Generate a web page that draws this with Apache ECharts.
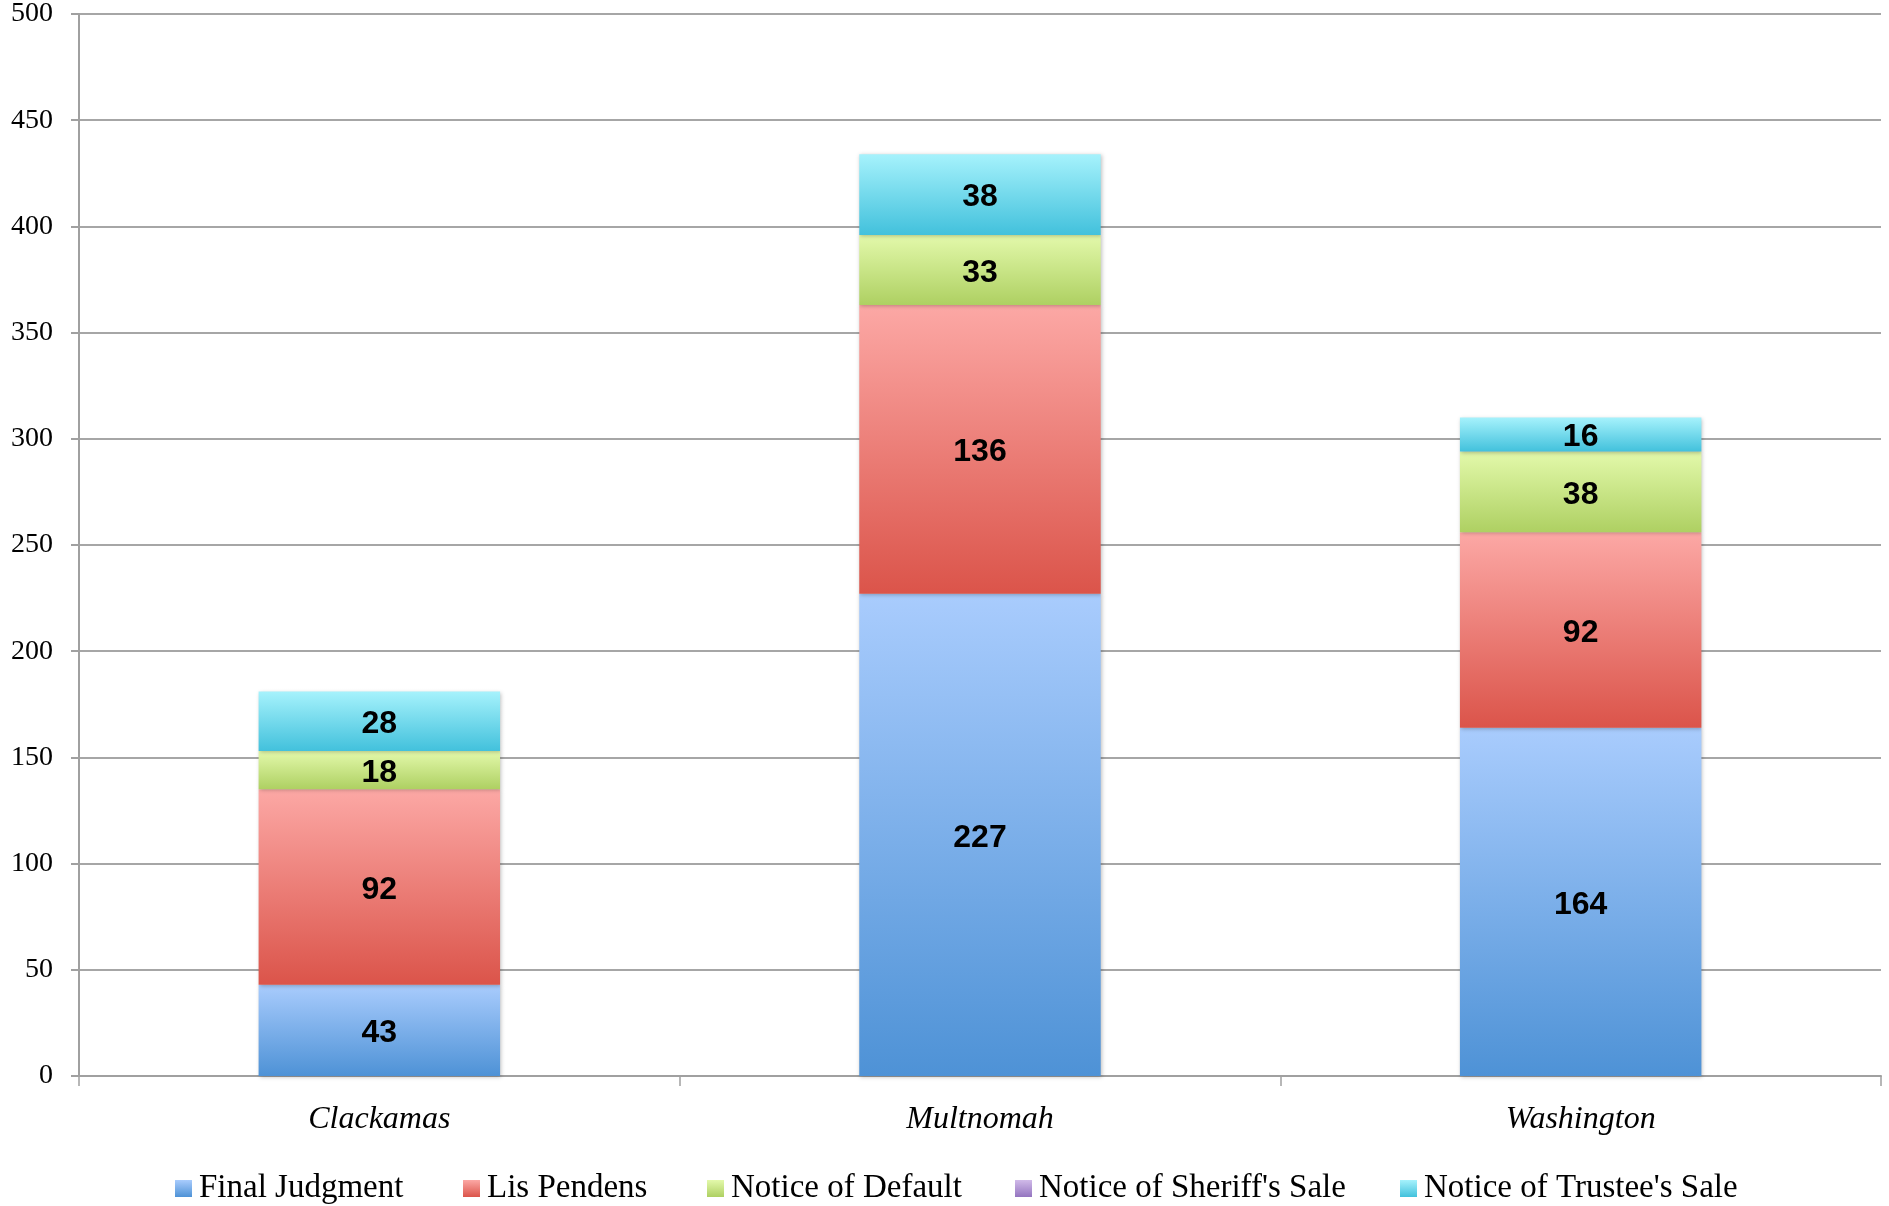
<!DOCTYPE html>
<html>
<head>
<meta charset="utf-8">
<script src="https://cdn.jsdelivr.net/npm/echarts@6/dist/echarts.min.js"></script>
<style>
html,body{margin:0;padding:0;background:#fff;}
#chart{width:1889px;height:1206px;}
</style>
</head>
<body>
<div id="chart"></div>
<script>
const categories = ['Clackamas', 'Multnomah', 'Washington'];
const seriesNames = ['Final Judgment', 'Lis Pendens', 'Notice of Default', "Notice of Sheriff's Sale", "Notice of Trustee's Sale"];
const finalJudgment = [43, 227, 164];
const lisPendens = [92, 136, 92];
const noticeOfDefault = [18, 33, 38];
const noticeOfSheriffsSale = [0, 0, 0];
const noticeOfTrusteesSale = [28, 38, 16];
const yTicks = {min: 0, max: 500, interval: 50};

const seriesValues = [finalJudgment, lisPendens, noticeOfDefault, noticeOfSheriffsSale, noticeOfTrusteesSale];
const gradStops = [
  ['#a9ccfd', '#4e92d6'],
  ['#fca8a5', '#db544a'],
  ['#e3f9ab', '#aed062'],
  ['#d0bae9', '#9474bf'],
  ['#a6f2fc', '#42c1dc']
];
function grad(c) {
  return new echarts.graphic.LinearGradient(0, 0, 0, 1, [
    {offset: 0, color: c[0]}, {offset: 1, color: c[1]}
  ]);
}
const serif = '"Liberation Serif", "DejaVu Serif", serif';
const legendLefts = [170, 458, 702, 1010, 1395];

const chart = echarts.init(document.getElementById('chart'));
chart.setOption({
  animation: false,
  backgroundColor: '#ffffff',
  grid: {left: 79, right: 8, top: 13, bottom: 130, containLabel: false},
  legend: seriesNames.map((n, i) => ({
    data: [n],
    left: legendLefts[i],
    top: 1167,
    itemWidth: 17,
    itemHeight: 17,
    itemGap: 0,
    icon: 'rect',
    textStyle: {fontFamily: serif, fontSize: 33, color: '#000', padding: [0, 0, 0, 2]}
  })),
  xAxis: {
    type: 'category',
    data: categories,
    axisLine: {lineStyle: {color: '#a0a0a0', width: 2}},
    axisTick: {show: true, length: 10, lineStyle: {color: '#a0a0a0', width: 1.5}},
    axisLabel: {fontFamily: serif, fontStyle: 'italic', fontSize: 32, color: '#000', margin: 28}
  },
  yAxis: {
    type: 'value',
    min: yTicks.min, max: yTicks.max, interval: yTicks.interval,
    axisLine: {show: true, lineStyle: {color: '#a0a0a0', width: 2}},
    axisTick: {show: true, length: 8, lineStyle: {color: '#a0a0a0', width: 2}},
    splitLine: {lineStyle: {color: '#a6a6a6', width: 2}},
    axisLabel: {fontFamily: serif, fontSize: 28, color: '#000', margin: 26}
  },
  series: seriesNames.map((n, i) => ({
    name: n,
    type: 'bar',
    stack: 'total',
    barWidth: '40.2%',
    data: seriesValues[i],
    itemStyle: {
      color: grad(gradStops[i]),
      shadowColor: 'rgba(0,0,0,0.25)',
      shadowBlur: 4,
      shadowOffsetX: 1,
      shadowOffsetY: 1
    },
    label: {
      show: true,
      position: 'inside',
      offset: [0, 3],
      fontFamily: '"Liberation Sans", Arial, sans-serif',
      fontWeight: 'bold',
      fontSize: 32,
      color: '#000',
      formatter: p => (p.value ? String(p.value) : '')
    }
  }))
});
</script>
</body>
</html>
